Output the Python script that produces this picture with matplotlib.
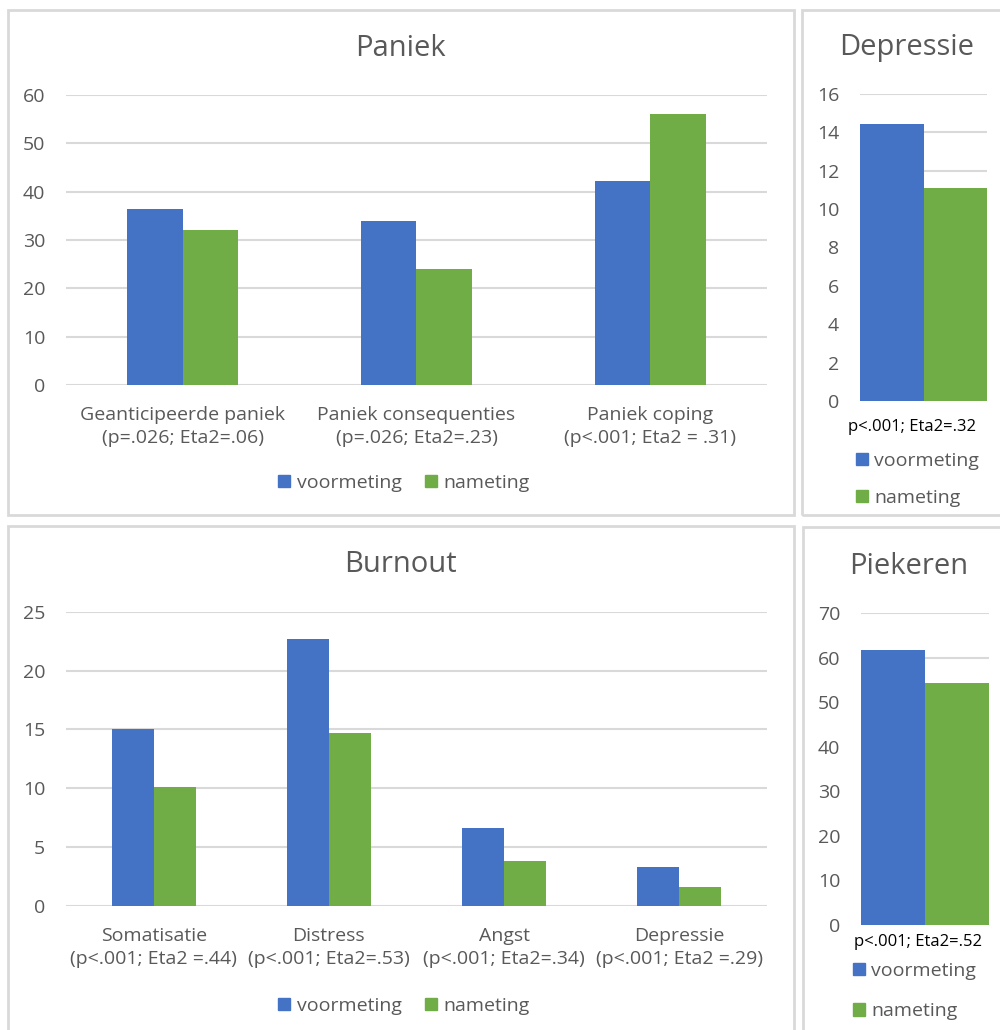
import numpy as np
import matplotlib
matplotlib.use("Agg")
import matplotlib.pyplot as plt
from matplotlib.patches import Rectangle, Patch

plt.rcParams['font.family'] = ['Open Sans', 'DejaVu Sans']

# Gegevens
series = ['voormeting', 'nameting']

paniek_cats = ['Geanticipeerde paniek\n(p=.026; Eta2=.06)',
               'Paniek consequenties\n(p=.026; Eta2=.23)',
               'Paniek coping\n(p<.001; Eta2 = .31)']
paniek_voor = [36.4, 34.0, 42.2]
paniek_na = [32.0, 24.1, 56.1]

burnout_cats = ['Somatisatie\n(p<.001; Eta2 =.44)',
                'Distress\n(p<.001; Eta2=.53)',
                'Angst\n(p<.001; Eta2=.34)',
                'Depressie\n(p<.001; Eta2 =.29)']
burnout_voor = [15.0, 22.7, 6.6, 3.3]
burnout_na = [10.1, 14.7, 3.8, 1.6]

depressie_label = 'p<.001; Eta2=.32'
depressie_voor = [14.45]
depressie_na = [11.08]

piekeren_label = 'p<.001; Eta2=.52'
piekeren_voor = [61.7]
piekeren_na = [54.3]

BLAUW = '#4472C4'
GROEN = '#70AD47'
TEKST = '#595959'
RASTER = '#D9D9D9'
FS = 14

W, H = 1000, 1030
fig = plt.figure(figsize=(W / 100, H / 100), dpi=100)


def fx(x):
    return x / W


def fy(y):
    return 1 - y / H


def kader(x0, y0, x1, y1):
    fig.patches.append(Rectangle((fx(x0), fy(y1)), fx(x1 - x0), (y1 - y0) / H,
                                 transform=fig.transFigure, fill=False,
                                 edgecolor=RASTER, linewidth=2))


def assen(x0, y0, x1, y1):
    ax = fig.add_axes([fx(x0), fy(y1), fx(x1 - x0), (y1 - y0) / H])
    for s in ax.spines.values():
        s.set_visible(False)
    ax.tick_params(axis='both', length=0, labelsize=FS, labelcolor=TEKST)
    ax.tick_params(axis='y', pad=15)
    ax.grid(axis='y', color=RASTER, linewidth=1.5)
    ax.set_axisbelow(True)
    return ax


def groep(ax, cats, voor, na, breedte, ymax, stap):
    x = np.arange(len(cats))
    ax.bar(x - breedte / 2, voor, breedte, color=BLAUW)
    ax.bar(x + breedte / 2, na, breedte, color=GROEN)
    ax.set_xlim(-0.5, len(cats) - 0.5)
    ax.set_ylim(0, ymax)
    ax.set_yticks(np.arange(0, ymax + 1, stap))
    ax.set_xticks(x)
    ax.set_xticklabels(cats, fontsize=FS, color=TEKST, linespacing=1.4)
    ax.tick_params(axis='x', pad=15)


def legenda_naast(x, y):
    handles = [Patch(color=BLAUW), Patch(color=GROEN)]
    fig.legend(handles, series, loc='center', bbox_to_anchor=(fx(x), fy(y)),
               ncol=2, frameon=False, fontsize=FS, labelcolor=TEKST,
               handlelength=0.6, handleheight=0.6, handletextpad=0.35,
               columnspacing=1.2)


def legenda_onder(x, y, ruimte):
    handles = [Patch(color=BLAUW), Patch(color=GROEN)]
    fig.legend(handles, series, loc='upper left', bbox_to_anchor=(fx(x), fy(y)),
               ncol=1, frameon=False, fontsize=FS, labelcolor=TEKST,
               handlelength=0.6, handleheight=0.6, handletextpad=0.35,
               labelspacing=ruimte, borderaxespad=0, borderpad=0)


# kaders rond de vier grafieken
kader(8, 10, 794, 515)
kader(802, 10, 1010, 515)
kader(8, 526, 794, 1040)
kader(803, 527, 1010, 1040)

# Paniek
ax1 = assen(66, 95, 767, 385)
groep(ax1, paniek_cats, paniek_voor, paniek_na, 0.2375, 60, 10)
fig.text(fx(400), fy(48), 'Paniek', ha='center', va='center', fontsize=21, color=TEKST)
legenda_naast(404, 483)

# Depressie
ax2 = assen(860, 94, 987, 401)
groep(ax2, [''], depressie_voor, depressie_na, 0.5, 16, 2)
ax2.set_xticks([])
fig.text(fx(907), fy(47), 'Depressie', ha='center', va='center', fontsize=21, color=TEKST)
fig.text(fx(912), fy(427), depressie_label, ha='center', va='center', fontsize=12, color='black')
legenda_onder(856, 452, 0.98)

# Burnout
ax3 = assen(66, 611.7, 767, 905.7)
groep(ax3, burnout_cats, burnout_voor, burnout_na, 0.24, 25, 5)
fig.text(fx(400), fy(565), 'Burnout', ha='center', va='center', fontsize=21, color=TEKST)
legenda_naast(404, 1006)

# Piekeren
ax4 = assen(861, 613.3, 989, 925)
groep(ax4, [''], piekeren_voor, piekeren_na, 0.5, 70, 10)
ax4.set_xticks([])
fig.text(fx(909), fy(566), 'Piekeren', ha='center', va='center', fontsize=21, color=TEKST)
fig.text(fx(918), fy(942), piekeren_label, ha='center', va='center', fontsize=12, color='black')
legenda_onder(853, 962, 1.15)

fig.savefig('out.png', dpi=100)
